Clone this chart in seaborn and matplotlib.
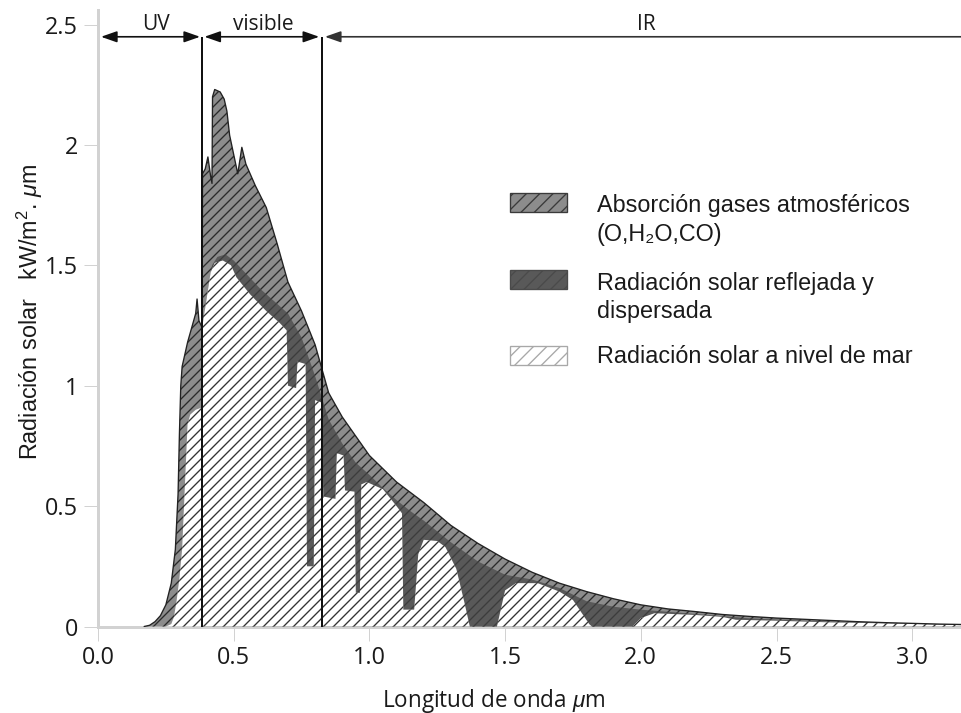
import matplotlib
matplotlib.use("Agg")
import matplotlib.pyplot as plt
from matplotlib.patches import Rectangle
import seaborn as sns

# extraterrestrial spectrum (outer curve), kW/m2.um
top_x = [0.17, 0.19, 0.21, 0.23, 0.25, 0.27, 0.285, 0.295, 0.30, 0.305, 0.31, 0.32,
         0.33, 0.345, 0.36, 0.365, 0.372, 0.384, 0.385, 0.395, 0.405, 0.415, 0.42,
         0.422, 0.43, 0.45, 0.465, 0.475, 0.485, 0.50, 0.515, 0.53, 0.545, 0.58,
         0.62, 0.66, 0.70, 0.75, 0.80, 0.85, 0.90, 0.95, 1.00, 1.05, 1.10, 1.20,
         1.30, 1.40, 1.50, 1.60, 1.70, 1.80, 1.90, 2.00, 2.10, 2.20, 2.30, 2.40,
         2.50, 2.60, 2.70, 2.80, 2.90, 3.00, 3.10, 3.20]
top_y = [0.0, 0.005, 0.02, 0.045, 0.09, 0.18, 0.32, 0.55, 0.80, 1.00, 1.08, 1.13,
         1.18, 1.24, 1.30, 1.36, 1.27, 1.24, 1.88, 1.90, 1.95, 1.87, 1.84,
         2.20, 2.23, 2.22, 2.19, 2.14, 2.04, 1.96, 1.88, 1.99, 1.92, 1.83,
         1.74, 1.59, 1.43, 1.31, 1.17, 0.97, 0.87, 0.79, 0.71, 0.655, 0.60, 0.515,
         0.42, 0.345, 0.28, 0.225, 0.18, 0.145, 0.115, 0.09, 0.073, 0.062, 0.05, 0.042,
         0.035, 0.03, 0.025, 0.02, 0.016, 0.013, 0.01, 0.008]

# top of the reflected / scattered part
mid_x = [0.385, 0.40, 0.42, 0.44, 0.47, 0.50, 0.55, 0.60, 0.65, 0.70, 0.75, 0.80,
         0.85, 0.90, 0.95, 1.00, 1.05, 1.10, 1.15, 1.20, 1.30, 1.40, 1.50, 1.60,
         1.70, 1.80, 1.90, 2.00, 2.20, 2.40, 2.60, 2.80, 3.00, 3.20]
mid_y = [1.22, 1.36, 1.50, 1.535, 1.545, 1.52, 1.46, 1.40, 1.35, 1.30, 1.20, 1.04,
         0.86, 0.76, 0.68, 0.63, 0.575, 0.525, 0.48, 0.44, 0.35, 0.27, 0.215, 0.195,
         0.16, 0.105, 0.082, 0.07, 0.052, 0.034, 0.024, 0.016, 0.010, 0.006]

# sea level spectrum
sea_x = [0.17, 0.25, 0.27, 0.28, 0.29, 0.30, 0.31, 0.32, 0.33, 0.34, 0.36, 0.384,
         0.385, 0.40, 0.415, 0.43, 0.46, 0.49, 0.51, 0.56, 0.62, 0.67, 0.695,
         0.70, 0.73, 0.735, 0.765, 0.77, 0.795, 0.80, 0.824, 0.83, 0.875, 0.88,
         0.905, 0.91, 0.945, 0.95, 0.965, 0.97, 0.99, 1.05, 1.10, 1.12, 1.125,
         1.165, 1.18, 1.20, 1.25, 1.28, 1.32, 1.35, 1.37, 1.47, 1.50, 1.54, 1.62,
         1.70, 1.75, 1.81, 1.82, 1.97, 2.00, 2.05, 2.20, 2.30, 2.35, 2.50, 2.70,
         3.00, 3.20]
sea_y = [0.0, 0.0, 0.01, 0.04, 0.11, 0.20, 0.32, 0.58, 0.84, 0.88, 0.90, 0.91,
         1.25, 1.36, 1.47, 1.51, 1.52, 1.50, 1.45, 1.38, 1.31, 1.26, 1.23,
         1.00, 0.99, 1.10, 1.09, 0.25, 0.25, 0.94, 0.93, 0.54, 0.53, 0.72,
         0.71, 0.565, 0.56, 0.14, 0.14, 0.59, 0.60, 0.57, 0.50, 0.47, 0.07,
         0.07, 0.30, 0.36, 0.355, 0.33, 0.24, 0.10, 0.0, 0.0, 0.15, 0.18, 0.18,
         0.145, 0.11, 0.01, 0.0, 0.0, 0.035, 0.055, 0.048, 0.04, 0.028, 0.024, 0.017,
         0.011, 0.005]

x_ticks = [0.0, 0.5, 1.0, 1.5, 2.0, 2.5, 3.0]
x_tick_labels = ["0.0", "0.5", "1.0", "1.5", "2.0", "2.5", "3.0"]
y_ticks = [0, 0.5, 1, 1.5, 2, 2.5]
y_tick_labels = ["0", "0.5", "1", "1.5", "2", "2.5"]

band_edges = [0.384, 0.824]
band_names = ["UV", "visible", "IR"]

legend_lines = [
    ["Absorción gases atmosféricos", "(O,H₂O,CO)"],
    ["Radiación solar reflejada y", "dispersada"],
    ["Radiación solar a nivel de mar"],
]

sns.set_theme(style="white")
plt.rcParams["font.family"] = ["Liberation Sans", "DejaVu Sans"]
plt.rcParams["mathtext.fontset"] = "custom"
plt.rcParams["mathtext.rm"] = "Liberation Sans"
plt.rcParams["mathtext.it"] = "Liberation Sans:italic"
plt.rcParams["hatch.linewidth"] = 0.8

C_ABS = "#8c8c8c"
C_REF = "#595959"
TXT = "#1a1a1a"
AXC = "#d2d2d2"

fig = plt.figure(figsize=(961 / 120, 713 / 120), dpi=120)
ax = fig.add_axes([98 / 961, 1 - 626.5 / 713, 863 / 961, 616.5 / 713])

ax.fill_between(top_x, 0, top_y, facecolor=C_ABS, edgecolor="#2a2a2a",
                hatch="////", linewidth=0, zorder=1)
ax.fill_between(mid_x, 0, mid_y, facecolor=C_REF, edgecolor="#3c3c3c",
                hatch="////", linewidth=0, zorder=2)
ax.fill_between(sea_x, 0, sea_y, facecolor="white", edgecolor="#333333",
                hatch="////", linewidth=0, zorder=3)
sns.lineplot(x=top_x, y=top_y, sort=False, estimator=None, color="#222222",
             linewidth=0.8, ax=ax, zorder=4)

# band limits and arrows
y_arrow = 2.449
ax.vlines(band_edges, 0, y_arrow, color="#111111", linewidth=1.2, zorder=5)
head = "head_length=0.4,head_width=0.14"
ax.annotate("", xy=(band_edges[0] - 0.008, y_arrow), xytext=(0.011, y_arrow),
            arrowprops=dict(arrowstyle="<|-|>," + head, color="#111111", lw=1.0,
                            shrinkA=0, shrinkB=0, mutation_scale=20))
ax.annotate("", xy=(band_edges[1] - 0.009, y_arrow), xytext=(band_edges[0] + 0.008, y_arrow),
            arrowprops=dict(arrowstyle="<|-|>," + head, color="#111111", lw=1.0,
                            shrinkA=0, shrinkB=0, mutation_scale=20))
ax.annotate("", xy=(band_edges[1] + 0.012, y_arrow), xytext=(3.25, y_arrow),
            arrowprops=dict(arrowstyle="-|>," + head, color="#333333", lw=1.0,
                            shrinkA=0, shrinkB=0, mutation_scale=20))
for name, xc in zip(band_names, [0.213, 0.61, 2.02]):
    ax.text(xc, 2.478, name, ha="center", va="baseline", fontsize=12.5,
            family=["Open Sans", "DejaVu Sans"], color=TXT)

# legend drawn by hand so the swatch sits on the first text line
sw_styles = [
    dict(facecolor=C_ABS, edgecolor="#3a3a3a", hatch="///", linewidth=0.8),
    dict(facecolor=C_REF, edgecolor="#4a4a4a", hatch="///", linewidth=0.8),
    dict(facecolor="white", edgecolor="#a8a8a8", hatch="///", linewidth=0.8),
]
sw_bottoms = [0.672, 0.547, 0.424]
baselines = [[0.6724, 0.6253], [0.5458, 0.5004], [0.4274]]
for lines, style, yb, bl in zip(legend_lines, sw_styles, sw_bottoms, baselines):
    ax.add_patch(Rectangle((0.477, yb), 0.067, 0.031, transform=ax.transAxes,
                           zorder=6, **style))
    for txt, b in zip(lines, bl):
        ax.text(0.578, b, txt, transform=ax.transAxes, ha="left", va="baseline",
                fontsize=14, color=TXT)

ax.set_xlim(0, 863 / 271.4)
ax.set_ylim(0, 616.5 / 240.8)
ax.set_xticks(x_ticks, x_tick_labels)
ax.set_yticks(y_ticks, y_tick_labels)
for lab in ax.get_xticklabels() + ax.get_yticklabels():
    lab.set_family(["Open Sans", "DejaVu Sans"])
ax.tick_params(axis="both", which="major", length=8.4, width=0.6, color=AXC,
               labelsize=14, labelcolor=TXT, pad=3.5, direction="out",
               bottom=True, left=True)

for side in ["top", "right"]:
    ax.spines[side].set_visible(False)
for side in ["left", "bottom"]:
    ax.spines[side].set_color(AXC)
    ax.spines[side].set_linewidth(1.8)
ax.spines["bottom"].set_zorder(0.5)

ax.set_xlabel("Longitud de onda $\\mu$m", fontsize=13.5, color=TXT, va="baseline",
              family=["Open Sans", "DejaVu Sans"])
ax.xaxis.set_label_coords(0.458, -0.130)
ax.set_ylabel("Radiación solar   kW/m$^2$. $\\mu$m", fontsize=14, color=TXT, va="center")
ax.yaxis.set_label_coords(-0.079, 0.51)

fig.savefig("out.png", dpi=120)
